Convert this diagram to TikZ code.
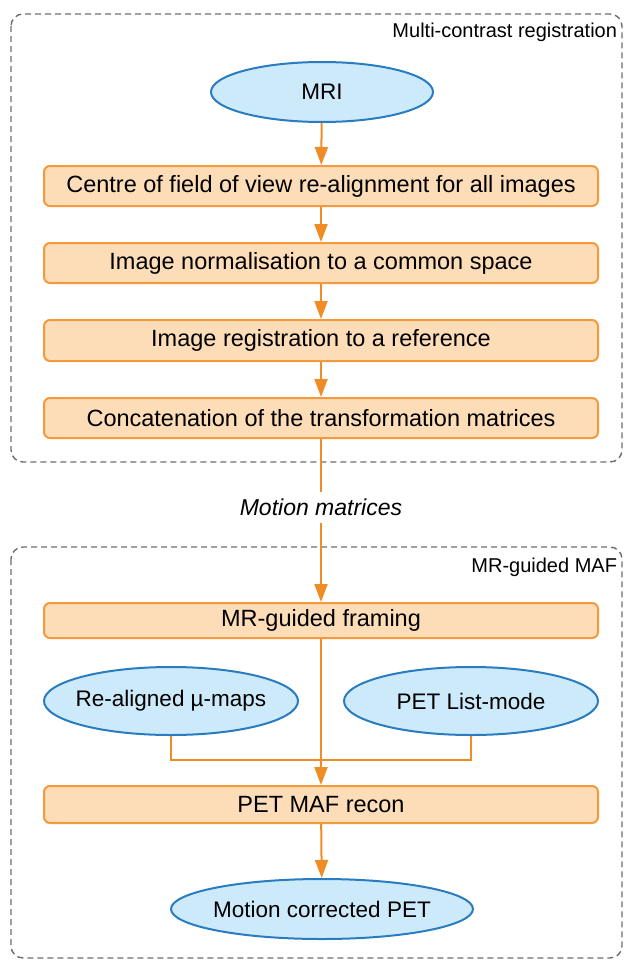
\documentclass[tikz,border=0pt]{standalone}
\usepackage{fontspec}
\setmainfont{Liberation Sans}
\usepackage{xcolor}
\usetikzlibrary{shapes.geometric,arrows.meta}
\definecolor{boxfill}{HTML}{FDDDB8}
\definecolor{boxline}{HTML}{F49A3C}
\definecolor{flow}{HTML}{F08C26}
\definecolor{ellfill}{HTML}{CDEAFB}
\definecolor{ellline}{HTML}{2A7CC0}
\definecolor{groupline}{HTML}{6E6E6E}

\begin{document}
\begin{tikzpicture}[
  x=1pt, y=1pt, line width=2pt,
  stepbox/.style={rectangle,rounded corners=6pt,draw=boxline,fill=boxfill,minimum width=554pt,inner sep=0pt,font=\fontsize{23.5}{28}\selectfont},
  datanode/.style={ellipse,draw=ellline,fill=ellfill,inner xsep=-14pt,inner ysep=0pt,font=\fontsize{22.5}{27}\selectfont},
  group/.style={draw=groupline,line width=1.4pt,dash pattern=on 6pt off 4pt,rounded corners=12pt},
  grouplabel/.style={anchor=east,inner sep=0pt,font=\fontsize{20}{24}\selectfont},
  flowline/.style={draw=flow,line width=2pt},
  flowarrow/.style={flowline,-{Triangle[length=18pt,width=13pt]}}
]
  \useasboundingbox (0,0) rectangle (625,-961);
  % groups
  \draw[group] (11,-14) rectangle (622,-462);
  \draw[group] (11,-547) rectangle (622,-958);
  \node[grouplabel] (lreg) at (618,-32) {Multi-contrast registration};
  \node[grouplabel] (lmaf) at (618,-567) {MR-guided MAF};
  % registration
  \node[datanode,minimum width=222pt,minimum height=60pt] (mri) at (322,-92) {MRI};
  \node[stepbox,minimum height=40pt] (s1) at (321,-186) {Centre of field of view re-alignment for all images};
  \node[stepbox,minimum height=40pt] (s2) at (321,-263) {Image normalisation to a common space};
  \node[stepbox,minimum height=41pt] (s3) at (321,-340.5) {Image registration to a reference};
  \node[stepbox,minimum height=40pt] (s4) at (321,-418) {Concatenation of the transformation matrices};
  \node[inner sep=0pt,minimum height=29pt,font=\fontsize{23}{28}\selectfont\itshape] (mot) at (321,-507.5) {Motion matrices};
  % MAF
  \node[stepbox,minimum height=35pt] (frm) at (321,-620.5) {MR-guided framing};
  \node[datanode,minimum width=254pt,minimum height=68pt] (mumap) at (171,-701) {Re-aligned µ-maps};
  \node[datanode,minimum width=254pt,minimum height=68pt] (lmode) at (471,-701) {PET List-mode};
  \node[stepbox,minimum height=37pt] (rec) at (321,-804.5) {PET MAF recon};
  \node[datanode,minimum width=302pt,minimum height=60pt] (pet) at (322,-909) {Motion corrected PET};
  \coordinate (join) at (321,-760);
  % connectors
  \draw[flowarrow] (mri) -- (s1);
  \draw[flowarrow] (s1) -- (s2);
  \draw[flowarrow] (s2) -- (s3);
  \draw[flowarrow] (s3) -- (s4);
  \draw[flowline] (s4) -- (mot);
  \draw[flowarrow] (mot) -- (frm);
  \draw[flowarrow] (frm) -- (rec);
  \draw[flowline] (mumap.south) |- (join);
  \draw[flowline] (lmode.south) |- (join);
  \draw[flowarrow] (rec) -- (pet);
\end{tikzpicture}
\end{document}
